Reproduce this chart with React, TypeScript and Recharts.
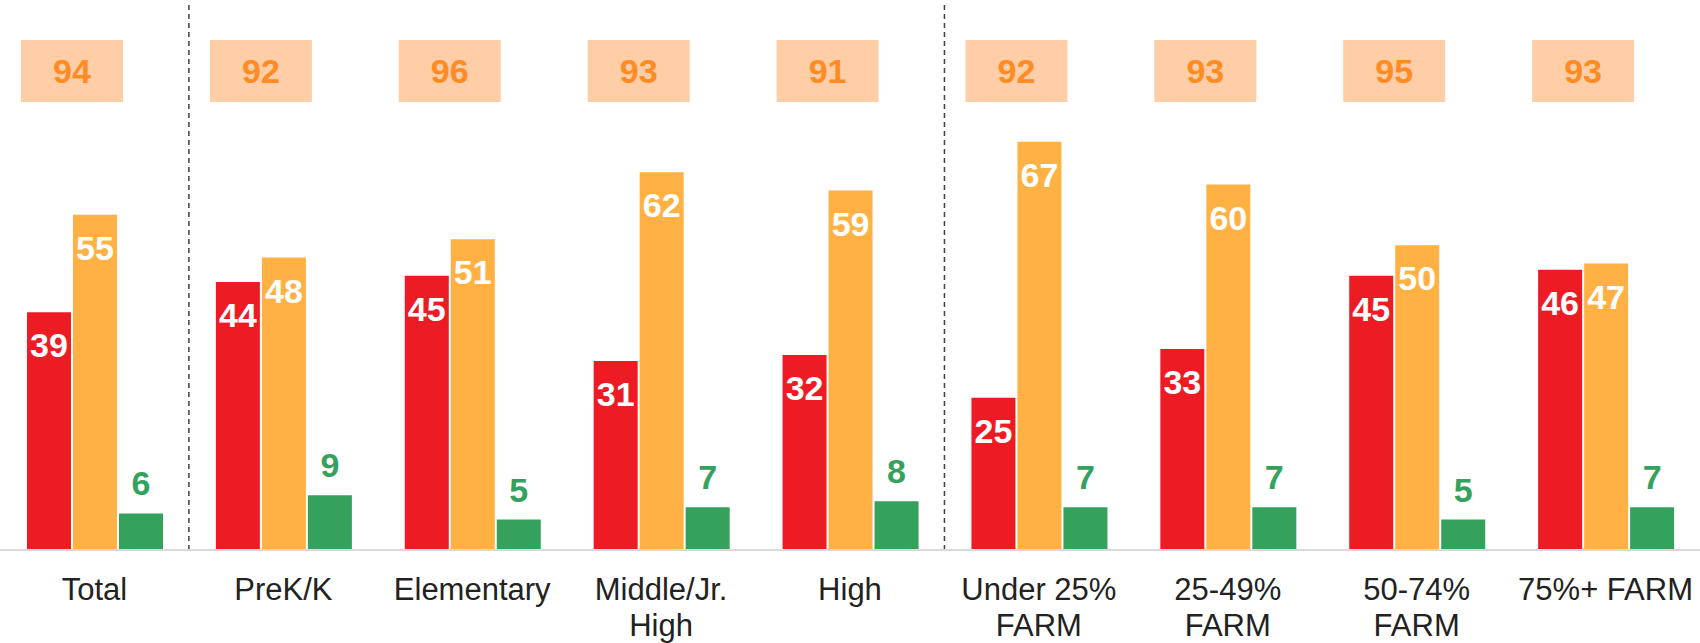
import React from "react";
import { BarChart, Bar, XAxis, YAxis, LabelList, ReferenceLine } from "recharts";

const categories = ["Total", "PreK/K", "Elementary", "Middle/Jr. High", "High", "Under 25% FARM", "25-49% FARM", "50-74% FARM", "75%+ FARM"];
const tickLabels = [["Total"], ["PreK/K"], ["Elementary"], ["Middle/Jr.", "High"], ["High"], ["Under 25%", "FARM"], ["25-49%", "FARM"], ["50-74%", "FARM"], ["75%+ FARM"]];
const redValues = [39, 44, 45, 31, 32, 25, 33, 45, 46];
const orangeValues = [55, 48, 51, 62, 59, 67, 60, 50, 47];
const greenValues = [6, 9, 5, 7, 8, 7, 7, 5, 7];
const totalValues = [94, 92, 96, 93, 91, 92, 93, 95, 93];

const data = categories.map((c, i) => ({
  category: c,
  red: redValues[i],
  orange: orangeValues[i],
  green: greenValues[i],
  total: totalValues[i],
  idx: i,
}));

const FONT = "'Liberation Sans', Arial, Helvetica, sans-serif";
const RED = "#ED1C24";
const ORANGE = "#FFB243";
const GREEN = "#34A15D";
const BOX_FILL = "#FFCDA6";
const BOX_TEXT = "#FF8B25";

const BoxLabel = (props: any) => {
  const x = props.x ?? props.viewBox?.x;
  const width = props.width ?? props.viewBox?.width;
  const value = props.value;
  const center = x + width + 1;
  const w = 102;
  const h = 62;
  const top = 40;
  return (
    <g>
      <rect x={center - w / 2} y={top} width={w} height={h} fill={BOX_FILL} />
      <text x={center} y={top + h / 2 + 12} textAnchor="middle" fontFamily={FONT} fontWeight="bold" fontSize={34} fill={BOX_TEXT}>
        {value}
      </text>
    </g>
  );
};

const Tick = (props: any) => {
  const { x, y, payload } = props;
  const lines = tickLabels[payload.index] ?? [String(payload.value)];
  return (
    <text x={x} y={y + 50} textAnchor="middle" fontFamily={FONT} fontSize={31} fill="#222222">
      {lines.map((l: string, i: number) => (
        <tspan key={i} x={x} dy={i === 0 ? 0 : 36}>{l}</tspan>
      ))}
    </text>
  );
};

export default function App() {
  return (
    <div style={{ position: "absolute", left: 0, top: 0, background: "#fff" }}>
      <BarChart
        width={1700}
        height={643}
        data={data}
        margin={{ top: 4, right: 0, left: 0, bottom: 0 }}
        barCategoryGap={27}
        barGap={2}
      >
        <XAxis
          dataKey="category"
          interval={0}
          tickLine={false}
          tickSize={0}
          tickMargin={0}
          axisLine={{ stroke: "#D9D9D9", strokeWidth: 2 }}
          height={93}
          tick={<Tick />}
        />
        <YAxis hide domain={[0, 89.6]} />
        <ReferenceLine x="Total" position="end" stroke="#404040" strokeWidth={1.5} strokeDasharray="5 4" />
        <ReferenceLine x="High" position="end" stroke="#404040" strokeWidth={1.5} strokeDasharray="5 4" />
        <Bar dataKey="red" fill={RED} isAnimationActive={false}>
          <LabelList dataKey="red" position="insideTop" offset={21} fill="#FFFFFF" fontSize={34} fontWeight="bold" fontFamily={FONT} />
          <LabelList dataKey="total" content={<BoxLabel />} />
        </Bar>
        <Bar dataKey="orange" fill={ORANGE} isAnimationActive={false}>
          <LabelList dataKey="orange" position="insideTop" offset={21} fill="#FFFFFF" fontSize={34} fontWeight="bold" fontFamily={FONT} />
        </Bar>
        <Bar dataKey="green" fill={GREEN} isAnimationActive={false}>
          <LabelList dataKey="green" position="top" offset={18} fill={GREEN} fontSize={34} fontWeight="bold" fontFamily={FONT} />
        </Bar>
      </BarChart>
    </div>
  );
}
